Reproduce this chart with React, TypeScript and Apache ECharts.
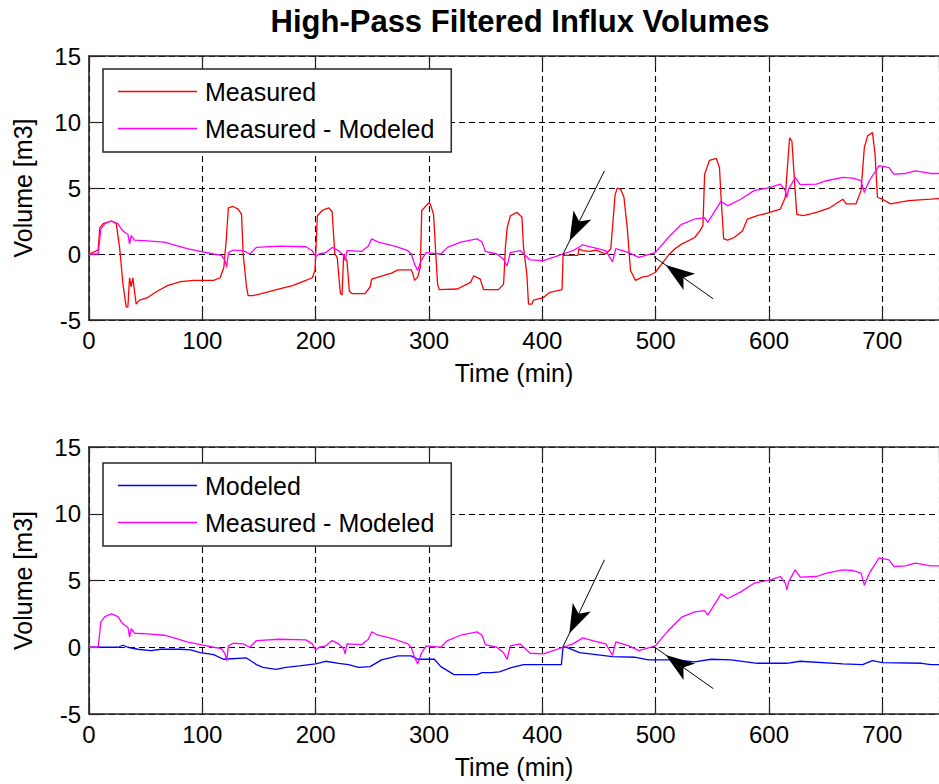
import React, { useEffect, useRef } from 'react';
import * as echarts from 'echarts';

const FONT = '"Liberation Sans", Arial, sans-serif';

const titleText = 'High-Pass Filtered Influx Volumes';
const xName = 'Time (min)';
const yName = 'Volume [m3]';
const xTicks = { min: 0, max: 750, interval: 100 };
const yTicks = { min: -5, max: 15, interval: 5 };

// Measured (top, red)
const measured: number[][] = [
  [0, 0], [8, 0.3], [9.6, 2.0], [12.5, 2.3], [19.8, 2.5], [24, 2.3], [27, 0.5], [30, -2.3], [32.8, -4.0],
  [34.3, -4.0], [35.8, -1.8], [37.2, -2.5], [38.7, -1.8], [41.6, -3.8], [44.5, -3.5], [51.7, -3.3],
  [60.5, -2.8], [69.2, -2.4], [80.8, -2.1], [92.4, -2.0], [110, -2.0], [115.7, -1.8], [119, -1.0],
  [121, 1.0], [123, 3.5], [127, 3.6], [131.7, 3.4], [134.6, 3.0], [136, 0], [139, -2.5], [140.4, -3.15],
  [144.8, -3.15], [156.4, -2.9], [168, -2.65], [179.7, -2.4], [191.3, -2.0], [197, -1.8], [199.4, -1.25],
  [201.5, 2.9], [205.8, 3.3], [211.6, 3.5], [214.5, 3.2], [216.9, 0], [219, -0.25], [221.8, -3.0],
  [223.3, -3.1], [224.7, 0], [225.6, -0.25], [227.6, -0.5], [229.7, -2.8], [232, -3.0], [243.6, -3.0],
  [248, -2.5], [249.4, -1.9], [255, -1.75], [266.9, -1.45], [272.7, -1.2], [284.3, -1.2], [285.8, -1.5],
  [287.2, -2.0], [290, -1.75], [292.4, -1.0], [293.6, 3.3], [297.4, 3.65], [300.3, 3.9], [301.7, 3.65],
  [304, 3.0], [306, 0], [307.6, -2.3], [309, -2.7], [325, -2.65], [336.6, -2.15], [339.5, -1.65],
  [345.3, -1.9], [348, -2.7], [361.3, -2.7], [365.7, -2.3], [366, -2.0], [367.4, 0.5], [369, 2.0],
  [371.8, 2.9], [377.6, 3.15], [382, 2.8], [383.4, 0.5], [386.3, -1.5], [387.8, -3.8], [390.7, -3.8],
  [392.2, -3.5], [400.9, -3.3], [406.7, -2.9], [412.5, -2.8], [417.4, -2.7], [418.3, -0.1], [431.4, -0.1],
  [432.3, 0.4], [435.7, 0.25], [441.5, 0.2], [447.3, 0.3], [456, 0], [460.4, 0.4], [461.9, 2.0],
  [464.2, 4.5], [466.2, 5.0], [469.1, 4.9], [472, 4.3], [474.9, 2.0], [477.8, -1.25], [482.2, -2.0],
  [488, -1.75], [493.8, -1.65], [499.6, -1.4], [505.4, -0.75], [511.2, -0.1], [517, 0.4], [522.9, 0.75],
  [534.5, 1.25], [538.9, 1.75], [541.7, 2.15], [543.2, 6.05], [547.5, 7.1], [553.4, 7.25], [556.3, 6.55],
  [557.7, 4.3], [560, 1.15], [563.5, 1.05], [569.3, 1.25], [576.6, 1.75], [580.9, 2.65], [589.7, 2.9],
  [598.4, 3.1], [610, 3.4], [614.4, 4.3], [615.8, 6.05], [618.2, 8.8], [620.2, 8.55], [622.5, 5.55],
  [624.5, 3.0], [630.3, 2.9], [641.9, 3.15], [653.6, 3.5], [665.2, 4.15], [668.1, 3.8], [676.8, 3.8],
  [681.2, 4.8], [684.1, 8.05], [687, 8.95], [691.3, 9.2], [693.6, 7.55], [695.7, 4.3], [700, 4.15],
  [707.3, 3.8], [723.3, 4.05], [742.7, 4.15], [750, 4.2],
];

// Measured - Modeled (magenta, both plots)
const difference: number[][] = [
  [0, 0], [8.1, 0], [10.5, 1.9], [14, 2.3], [19.8, 2.5], [25.6, 2.3], [28.5, 1.9], [31.4, 1.65],
  [34.3, 1.5], [35.8, 0.75], [37.2, 1.4], [40.1, 1.05], [51.7, 1.0], [66.3, 0.9], [75, 0.7], [86.6, 0.4],
  [98.3, 0.2], [110, 0], [117, -0.1], [120, -0.5], [121.5, -1.0], [123, 0.1], [127.3, 0.3], [136, 0.25],
  [141.9, 0], [147.7, 0.5], [168, 0.6], [191.3, 0.55], [197, 0.25], [200, -0.2], [203, 0], [208.7, 0.1],
  [214.5, 0.5], [220.3, 0.25], [224.7, -0.1], [226, -0.5], [227.6, 0.25], [240.7, 0.2], [246.5, 0.6],
  [249.4, 1.15], [255.2, 0.9], [269.8, 0.6], [281.4, 0.25], [284.3, 0], [287.2, -0.75], [290, -1.25],
  [293, -0.5], [297.4, 0.1], [304.7, 0.05], [310.5, 0], [316.3, 0.5], [327.9, 0.9], [342.4, 1.15],
  [346.8, 0.9], [349.7, 0.2], [359.9, 0], [365.7, -0.4], [368.9, -0.9], [371.8, 0.1], [380.5, 0.25],
  [389.3, -0.45], [400.9, -0.5], [409.6, -0.25], [418.3, 0], [427, 0.25], [435.7, 0.7], [444.4, 0.5],
  [456, 0.25], [461.9, -0.6], [464.8, 0.4], [476.4, 0.1], [485.1, -0.25], [499.6, 0.1], [511.2, 1.25],
  [522.9, 2.25], [534.5, 2.65], [543.2, 2.75], [546, 2.4], [557.7, 4.0], [563.5, 3.65], [575.1, 4.15],
  [586.8, 4.8], [601.3, 5.05], [610, 5.3], [614.4, 4.8], [615.8, 4.3], [617.3, 4.9], [623.1, 5.8],
  [627.5, 5.25], [641.9, 5.3], [650.7, 5.55], [665.2, 5.8], [673.9, 5.75], [681.2, 5.55], [684.1, 4.65],
  [688.5, 5.55], [697.2, 6.7], [705.9, 6.55], [710.2, 6.05], [720.4, 6.1], [729.1, 6.3], [742.7, 6.1],
  [750, 6.1],
];

// Modeled (bottom, blue)
const modeled: number[][] = [
  [0, 0], [25.6, 0], [30, 0.15], [34.3, 0], [43, -0.15], [54.7, -0.25], [63.4, -0.15], [80.8, -0.15],
  [89.5, -0.2], [98.3, -0.4], [110, -0.55], [118.6, -0.9], [139, -0.8], [147.7, -1.3], [153.5, -1.5],
  [165.1, -1.65], [173.8, -1.5], [185.5, -1.4], [200, -1.25], [208.7, -1.05], [220.3, -1.2], [229, -1.3],
  [237.8, -1.5], [248, -1.45], [258.1, -0.95], [272.7, -0.65], [284.3, -0.65], [290, -0.9], [304.7, -0.9],
  [310.5, -1.45], [322, -2.05], [342.4, -2.05], [346.8, -1.9], [355, -1.9], [362, -1.85], [371.8, -1.55],
  [383.4, -1.3], [416.8, -1.3], [418.3, 0.05], [422.7, -0.05], [432.8, -0.4], [447.3, -0.55],
  [461.9, -0.7], [482.2, -0.75], [493.8, -0.95], [517, -0.95], [534.5, -1.1], [549, -0.9], [566.4, -0.95],
  [589.7, -1.2], [615.8, -1.2], [627.4, -1.05], [665.2, -1.25], [682.6, -1.3], [691.3, -1.0], [700, -1.15],
  [734.9, -1.2], [742.7, -1.3], [750, -1.3],
];

// Annotation arrows: [fromX, fromY, toX, toY]
const arrowsTop: number[][] = [
  [454.8, 6.3, 418.3, 0],
  [550.8, -3.4, 498.4, -0.2],
];
const arrowsBottom: number[][] = [
  [454.8, 6.55, 418.3, 0.05],
  [550.8, -3.1, 498.4, 0.05],
];

const legendTop = ['Measured', 'Measured - Modeled'];
const legendBottom = ['Modeled', 'Measured - Modeled'];

const AXIS_COLOR = '#262626';

function bottomX(gridIndex: number) {
  return {
    type: 'value', gridIndex, position: 'bottom', ...xTicks,
    name: xName, nameLocation: 'middle', nameGap: 40,
    nameTextStyle: { fontSize: 25, color: '#000', fontFamily: FONT },
    axisLine: { show: true, onZero: false, lineStyle: { color: AXIS_COLOR, width: 1.6 } },
    axisTick: { show: true, inside: true, length: 11, lineStyle: { color: AXIS_COLOR, width: 1.2 } },
    axisLabel: { fontSize: 24, color: '#000', margin: 8, fontFamily: FONT, showMaxLabel: false },
    splitLine: { show: true, lineStyle: { color: '#000', type: [6, 4], width: 1.1 } },
  };
}
function topX(gridIndex: number) {
  return {
    type: 'value', gridIndex, position: 'top', ...xTicks,
    axisLine: { show: true, onZero: false, lineStyle: { color: AXIS_COLOR, width: 1.6 } },
    axisTick: { show: true, inside: true, length: 11, lineStyle: { color: AXIS_COLOR, width: 1.2 } },
    axisLabel: { show: false },
    splitLine: { show: false },
  };
}
function leftY(gridIndex: number) {
  return {
    type: 'value', gridIndex, ...yTicks,
    name: yName, nameLocation: 'middle', nameGap: 54, nameRotate: 90,
    nameTextStyle: { fontSize: 25, color: '#000', fontFamily: FONT },
    axisLine: { show: true, onZero: false, lineStyle: { color: AXIS_COLOR, width: 1.6 } },
    axisTick: { show: true, inside: true, length: 11, lineStyle: { color: AXIS_COLOR, width: 1.2 } },
    axisLabel: { fontSize: 24, color: '#000', margin: 8, fontFamily: FONT },
    splitLine: { show: true, lineStyle: { color: '#000', type: [6, 4], width: 1.1 } },
  };
}
function legend(data: string[], top: number) {
  return {
    data, left: 103, top, orient: 'vertical', icon: 'rect', itemWidth: 79, itemHeight: 1.6, itemGap: 12,
    padding: [10, 17, 11, 15], borderColor: AXIS_COLOR, borderWidth: 1.5, backgroundColor: '#fff',
    selectedMode: false,
    textStyle: { fontSize: 25, color: '#000', fontFamily: FONT, padding: [0, 0, 0, 3] },
  };
}
function arrows(list: number[][]) {
  return {
    silent: true,
    symbol: ['none', 'arrow'],
    lineStyle: { color: '#000', width: 1, type: 'solid' },
    label: { show: false },
    emphasis: { disabled: true },
    data: list.map(([x1, y1, x2, y2]) => [
      { coord: [x1, y1], symbol: 'none' },
      { coord: [x2, y2], symbol: 'arrow', symbolSize: [15, 29], symbolOffset: [0, '50%'] },
    ]),
  };
}
function lineSeries(name: string, data: number[][], color: string, axis: number, mark?: any) {
  return {
    type: 'line', name, data, xAxisIndex: axis * 2, yAxisIndex: axis, symbol: 'none', showSymbol: false,
    lineStyle: { color, width: 1.3 }, itemStyle: { color }, silent: true,
    ...(mark ? { markLine: mark } : {}),
  };
}

export default function App() {
  const ref = useRef<HTMLDivElement>(null);
  useEffect(() => {
    if (!ref.current) return;
    const chart = echarts.init(ref.current, undefined, { renderer: 'svg' });
    chart.setOption({
      animation: false,
      backgroundColor: '#fff',
      title: {
        text: titleText, left: 515, top: 1, textAlign: 'center',
        textStyle: { fontSize: 31, fontWeight: 'bold', color: '#000', fontFamily: FONT },
      },
      grid: [
        { left: 89, right: -9, top: 56, height: 264 },
        { left: 89, right: -9, top: 447, height: 267 },
      ],
      xAxis: [bottomX(0), topX(0), bottomX(1), topX(1)],
      yAxis: [leftY(0), leftY(1)],
      legend: [legend(legendTop, 69), legend(legendBottom, 463)],
      series: [
        lineSeries('Measured', measured, '#ff0000', 0),
        lineSeries('Measured - Modeled', difference, '#ff00ff', 0, arrows(arrowsTop)),
        lineSeries('Modeled', modeled, '#0000ff', 1),
        lineSeries('Measured - Modeled', difference, '#ff00ff', 1, arrows(arrowsBottom)),
      ],
    });
    return () => chart.dispose();
  }, []);
  return (
    <div
      ref={ref}
      style={{ position: 'fixed', left: 0, top: 0, width: 939, height: 784, background: '#fff' }}
    />
  );
}
